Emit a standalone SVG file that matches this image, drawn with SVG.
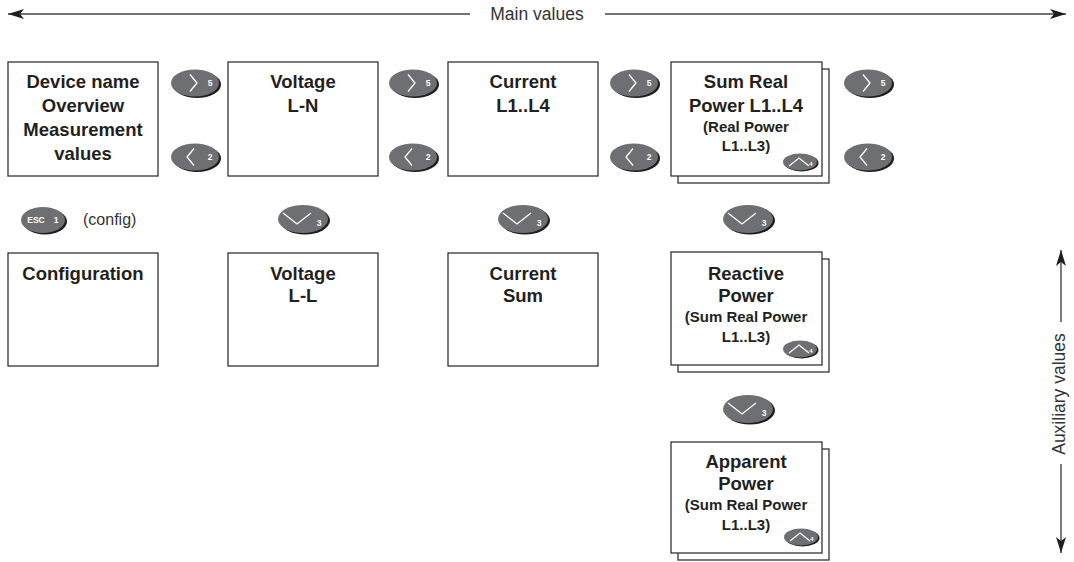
<svg xmlns="http://www.w3.org/2000/svg" xmlns:xlink="http://www.w3.org/1999/xlink" width="1074" height="562" viewBox="0 0 1074 562">
<style>
.box{fill:#fff;stroke:#333;stroke-width:1.3}
.t{font-family:"Liberation Sans",Arial,sans-serif;font-weight:bold;font-size:18.5px;fill:#231f20;text-anchor:middle}
.s{font-family:"Liberation Sans",Arial,sans-serif;font-weight:bold;font-size:15px;fill:#231f20;text-anchor:middle}
.lab{font-family:"Liberation Sans",Arial,sans-serif;font-size:17.5px;fill:#333}
.ax{stroke:#444;stroke-width:1.4;fill:none}
.bn{fill:#6d6f72}
.bs{fill:#1e1e1e}
.gl{stroke:#fff;stroke-width:1.3;fill:none}
.nm{font-family:"Liberation Sans",Arial,sans-serif;font-weight:bold;font-size:8.5px;fill:#fff;text-anchor:middle}
</style>
<defs>
<marker id="ah" viewBox="0 0 16 10" refX="16" refY="5" markerWidth="16" markerHeight="10" markerUnits="userSpaceOnUse" orient="auto">
<path d="M0,0 L16,5 L0,10 L4,5 Z" fill="#1e1e1e"/>
</marker>
<g id="bR"><ellipse class="bs" cx="2" cy="1.5" rx="24" ry="13.5"/><ellipse class="bn" rx="24" ry="13.5"/><polyline class="gl" points="-5,-8.5 2,0 -5,8.5"/><text class="nm" x="15" y="3">5</text></g>
<g id="bL"><ellipse class="bs" cx="2" cy="1.5" rx="24" ry="13.5"/><ellipse class="bn" rx="24" ry="13.5"/><polyline class="gl" points="-1,-8.5 -8,0 -1,8.5"/><text class="nm" x="15" y="3">2</text></g>
<g id="bD"><ellipse class="bs" cx="2" cy="1.5" rx="25" ry="14"/><ellipse class="bn" rx="25" ry="14"/><polyline class="gl" points="-20,-6 -6,5 8,-6"/><text class="nm" x="16" y="7">3</text></g>
<g id="bU"><ellipse class="bs" cx="1.5" cy="1" rx="17" ry="8.5"/><ellipse class="bn" rx="17" ry="8.5"/><polyline class="gl" points="-11,4 -1,-4 9,4"/><text class="nm" x="11" y="4" style="font-size:6px">4</text></g>
</defs>

<g id="axes">
<line class="ax" x1="470" y1="14" x2="8" y2="14" marker-end="url(#ah)"/>
<line class="ax" x1="605" y1="14" x2="1066" y2="14" marker-end="url(#ah)"/>
<text class="lab" x="537" y="20" text-anchor="middle">Main values</text>
<line class="ax" x1="1061" y1="322" x2="1061" y2="250" marker-end="url(#ah)"/>
<line class="ax" x1="1061" y1="464" x2="1061" y2="553" marker-end="url(#ah)"/>
<text class="lab" transform="translate(1065,394) rotate(-90)" text-anchor="middle">Auxiliary values</text>
</g>

<g id="n-device"><rect class="box" x="8" y="62" width="150" height="114"/>
<text class="t" x="83" y="88">Device name</text><text class="t" x="83" y="112">Overview</text><text class="t" x="83" y="136">Measurement</text><text class="t" x="83" y="160">values</text></g>

<g id="n-vln"><rect class="box" x="228" y="62" width="150" height="114"/>
<text class="t" x="303" y="88">Voltage</text><text class="t" x="303" y="112">L-N</text></g>

<g id="n-cur"><rect class="box" x="448" y="62" width="150" height="114"/>
<text class="t" x="523" y="88">Current</text><text class="t" x="523" y="112">L1..L4</text></g>

<g id="n-sum"><rect class="box" x="678" y="69" width="151" height="114"/><rect class="box" x="671" y="62" width="151" height="114"/>
<text class="t" x="746" y="88">Sum Real</text><text class="t" x="746" y="112">Power L1..L4</text><text class="s" x="746" y="132">(Real Power</text><text class="s" x="746" y="151">L1..L3)</text>
<use xlink:href="#bU" x="800" y="162"/></g>

<g id="n-config"><rect class="box" x="8" y="253" width="150" height="113"/>
<text class="t" x="83" y="280">Configuration</text></g>

<g id="n-vll"><rect class="box" x="228" y="253" width="150" height="113"/>
<text class="t" x="303" y="280">Voltage</text><text class="t" x="303" y="302">L-L</text></g>

<g id="n-cursum"><rect class="box" x="448" y="253" width="150" height="113"/>
<text class="t" x="523" y="280">Current</text><text class="t" x="523" y="302">Sum</text></g>

<g id="n-reactive"><rect class="box" x="678" y="259" width="151" height="113"/><rect class="box" x="671" y="252" width="151" height="113"/>
<text class="t" x="746" y="280">Reactive</text><text class="t" x="746" y="302">Power</text><text class="s" x="746" y="322">(Sum Real Power</text><text class="s" x="746" y="342">L1..L3)</text>
<use xlink:href="#bU" x="800" y="349"/></g>

<g id="n-apparent"><rect class="box" x="678" y="449" width="151" height="111"/><rect class="box" x="671" y="442" width="151" height="111"/>
<text class="t" x="746" y="468">Apparent</text><text class="t" x="746" y="490">Power</text><text class="s" x="746" y="510">(Sum Real Power</text><text class="s" x="746" y="530">L1..L3)</text>
<use xlink:href="#bU" x="801" y="537"/></g>

<g id="connectors">
<use xlink:href="#bR" x="195" y="83"/><use xlink:href="#bL" x="195" y="157"/>
<use xlink:href="#bR" x="413" y="83"/><use xlink:href="#bL" x="413" y="157"/>
<use xlink:href="#bR" x="634" y="83"/><use xlink:href="#bL" x="634" y="157"/>
<use xlink:href="#bR" x="868" y="83"/><use xlink:href="#bL" x="868" y="157"/>
<use xlink:href="#bD" x="303" y="219"/>
<use xlink:href="#bD" x="523" y="219"/>
<use xlink:href="#bD" x="748" y="219"/>
<use xlink:href="#bD" x="748" y="409"/>
<g id="esc"><ellipse class="bs" cx="45" cy="221.5" rx="22" ry="13"/><ellipse class="bn" cx="43" cy="220" rx="22" ry="13"/>
<text class="nm" x="36" y="223">ESC</text><text class="nm" x="56" y="223">1</text></g>
<text class="lab" x="83" y="225" style="font-size:16px">(config)</text>
</g>
</svg>
